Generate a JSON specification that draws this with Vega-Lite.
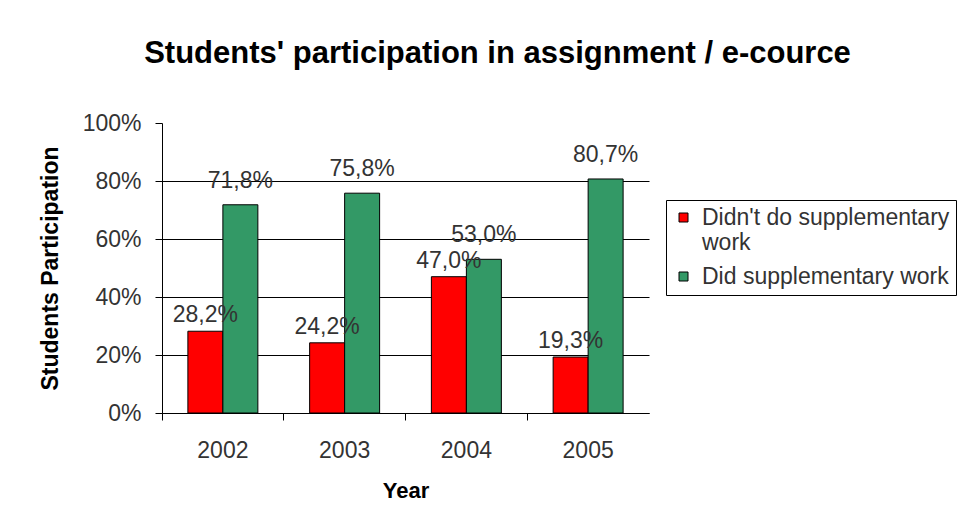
{
  "$schema": "https://vega.github.io/schema/vega-lite/v6.json",
  "autosize": {"type": "none"},
  "width": 487,
  "height": 290,
  "padding": {"left": 162, "top": 123, "right": 315, "bottom": 116},
  "background": "white",
  "title": {
    "text": "Students' participation in assignment / e-cource",
    "font": "Liberation Sans",
    "fontSize": 31,
    "fontWeight": "bold",
    "color": "black",
    "anchor": "middle",
    "frame": "group",
    "dx": 92,
    "offset": 42
  },
  "data": {
    "values": [
      {"year": "2002", "series": "Didn't do supplementary work", "value": 0.282},
      {"year": "2002", "series": "Did supplementary work", "value": 0.718},
      {"year": "2003", "series": "Didn't do supplementary work", "value": 0.242},
      {"year": "2003", "series": "Did supplementary work", "value": 0.758},
      {"year": "2004", "series": "Didn't do supplementary work", "value": 0.47},
      {"year": "2004", "series": "Did supplementary work", "value": 0.53},
      {"year": "2005", "series": "Didn't do supplementary work", "value": 0.193},
      {"year": "2005", "series": "Did supplementary work", "value": 0.807}
    ]
  },
  "encoding": {
    "x": {
      "field": "year",
      "type": "nominal",
      "scale": {"paddingInner": 0, "paddingOuter": 0},
      "axis": {
        "title": "Year",
        "labelAngle": 0,
        "bandPosition": 0,
        "tickSize": 7,
        "tickColor": "black",
        "domainColor": "black",
        "labelFontSize": 23,
        "labelFont": "Liberation Sans",
        "labelColor": "#333333",
        "labelPadding": 19,
        "titleFont": "Liberation Sans",
        "titleFontSize": 22,
        "titleFontWeight": "bold",
        "titleColor": "black",
        "titlePadding": 18
      }
    },
    "xOffset": {
      "field": "series",
      "type": "nominal",
      "sort": ["Didn't do supplementary work", "Did supplementary work"],
      "scale": {"paddingInner": 0, "paddingOuter": 0.74}
    },
    "y": {
      "field": "value",
      "type": "quantitative",
      "scale": {"domain": [0, 1], "nice": false},
      "axis": {
        "title": "Students Participation",
        "format": ".0%",
        "values": [0, 0.2, 0.4, 0.6, 0.8, 1],
        "tickSize": 7,
        "tickColor": "black",
        "domainColor": "black",
        "gridColor": "black",
        "gridOpacity": {"condition": {"test": "datum.value == 1", "value": 0}, "value": 1},
        "labelFontSize": 23,
        "labelFont": "Liberation Sans",
        "labelColor": "#333333",
        "labelPadding": 14,
        "titleFont": "Liberation Sans",
        "titleFontSize": 23,
        "titleFontWeight": "bold",
        "titleColor": "black",
        "titlePadding": 20
      }
    }
  },
  "layer": [
    {
      "mark": {"type": "bar", "stroke": "black", "strokeWidth": 1},
      "encoding": {
        "color": {
          "field": "series",
          "type": "nominal",
          "sort": ["Didn't do supplementary work", "Did supplementary work"],
          "scale": {"domain": ["Didn't do supplementary work", "Did supplementary work"], "range": ["#ff0000", "#339966"]},
          "legend": {
            "title": null,
            "orient": "none",
            "legendX": 504,
            "legendY": 77,
            "strokeColor": "black",
            "fillColor": "white",
            "padding": 6,
            "rowPadding": 10,
            "symbolType": "square",
            "symbolSize": 81,
            "symbolStrokeColor": "black",
            "symbolStrokeWidth": 1,
            "labelFont": "Liberation Sans",
            "labelFontSize": 23,
            "labelColor": "#333333",
            "labelOffset": 7,
            "labelLimit": 600,
            "labelExpr": "datum.label == \"Didn't do supplementary work\" ? [\"Didn't do supplementary\", \"work\"] : datum.label"
          }
        }
      }
    },
    {
      "transform": [{"filter": "datum.series == \"Didn't do supplementary work\""}],
      "mark": {"type": "text", "baseline": "bottom", "dy": -4, "font": "Liberation Sans", "fontSize": 23, "color": "#333333"},
      "encoding": {
        "text": {"field": "value", "type": "quantitative", "format": ".1%"}
      }
    },
    {
      "transform": [{"filter": "datum.series == \"Did supplementary work\""}],
      "mark": {"type": "text", "baseline": "bottom", "dy": -12, "font": "Liberation Sans", "fontSize": 23, "color": "#333333"},
      "encoding": {
        "text": {"field": "value", "type": "quantitative", "format": ".1%"}
      }
    }
  ],
  "config": {
    "view": {"stroke": null},
    "locale": {"number": {"decimal": ",", "thousands": ".", "grouping": [3], "currency": ["", " €"]}}
  }
}
